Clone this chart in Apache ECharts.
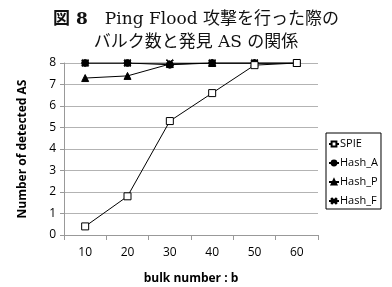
<!DOCTYPE html>
<html>
<head>
<meta charset="utf-8">
<script src="https://cdn.jsdelivr.net/npm/echarts@6/dist/echarts.min.js"></script>
<style>
  html, body { margin: 0; padding: 0; background: #fff; }
  #chart { width: 392px; height: 287px; }
</style>
</head>
<body>
<div id="chart"></div>
<script>
const bulk = ['10', '20', '30', '40', '50', '60'];
const spie = [0.4, 1.8, 5.3, 6.6, 7.9, 8];
const hashA = [8, 8, 7.92, 8, 8, 8];
const hashP = [7.3, 7.4, 7.95, 8, 8, 8];
const hashF = [8, 8, 8, 8, 8, 8];

const crossPath = 'path://M0,1L1,0L5,4L9,0L10,1L6,5L10,9L9,10L5,6L1,10L0,9L4,5Z';
const labelFont = '"Open Sans", "Liberation Sans", sans-serif';
const titleFont = '"DejaVu Serif", "Noto Sans CJK JP", serif';

const chart = echarts.init(document.getElementById('chart'));

function lineSeries(name, data, symbol, size, fill, z) {
    return {
        name: name,
        type: 'line',
        data: data,
        symbol: symbol,
        symbolSize: size,
        z: z,
        lineStyle: { color: '#000', width: 1 },
        itemStyle: { color: fill, borderColor: '#000', borderWidth: 1 },
        animation: false,
    };
}

chart.setOption({
    animation: false,
    title: {
        text: '{b|図 8}　Ping Flood 攻撃を行った際の\nバルク数と発見 AS の関係',
        left: 'center',
        top: 8,
        padding: 0,
        textStyle: {
            fontFamily: titleFont,
            fontSize: 17,
            fontWeight: 'normal',
            color: '#111',
            lineHeight: 23,
            rich: {
                b: {
                    fontFamily: titleFont,
                    fontSize: 17,
                    fontWeight: 'bold',
                    color: '#111',
                },
            },
        },
    },
    legend: {
        orient: 'vertical',
        left: 326,
        top: 133,
        width: 56,
        padding: [5, 3, 2, 2],
        itemGap: 7,
        itemWidth: 10,
        itemHeight: 6,
        borderColor: '#000',
        borderWidth: 1,
        textStyle: { fontFamily: labelFont, fontSize: 11, lineHeight: 12, color: '#000', padding: [0, 0, 0, -4] },
        data: ['SPIE', 'Hash_A', 'Hash_P', 'Hash_F'],
    },
    grid: { left: 64, right: 74, top: 63, bottom: 52, outerBoundsMode: 'none' },
    xAxis: {
        type: 'category',
        data: bulk,
        boundaryGap: true,
        name: 'bulk number : b',
        nameLocation: 'middle',
        nameGap: 38,
        nameTextStyle: { fontFamily: labelFont, fontSize: 12, fontWeight: 'bold', color: '#000' },
        axisLine: { lineStyle: { color: '#999' } },
        axisTick: { show: true, length: 5, lineStyle: { color: '#999' } },
        axisLabel: { fontFamily: labelFont, fontSize: 12, color: '#000', margin: 12 },
    },
    yAxis: {
        type: 'value',
        min: 0,
        max: 8,
        interval: 1,
        name: 'Number of detected AS',
        nameLocation: 'middle',
        nameGap: 35,
        nameTextStyle: { fontFamily: labelFont, fontSize: 12, fontWeight: 'bold', color: '#000' },
        axisLine: { show: true, lineStyle: { color: '#999' } },
        axisTick: { show: true, length: 4, lineStyle: { color: '#999' } },
        axisLabel: { fontFamily: labelFont, fontSize: 12, color: '#000', margin: 8 },
        splitLine: { lineStyle: { color: '#b3b3b3', width: 1 } },
    },
    series: [
        lineSeries('SPIE', spie, 'rect', 7, '#fff', 4),
        lineSeries('Hash_A', hashA, 'circle', 7, '#000', 3),
        lineSeries('Hash_P', hashP, 'triangle', 7, '#000', 2),
        lineSeries('Hash_F', hashF, crossPath, 7, '#000', 1),
    ],
});

window.addEventListener('resize', chart.resize);
</script>
</body>
</html>
